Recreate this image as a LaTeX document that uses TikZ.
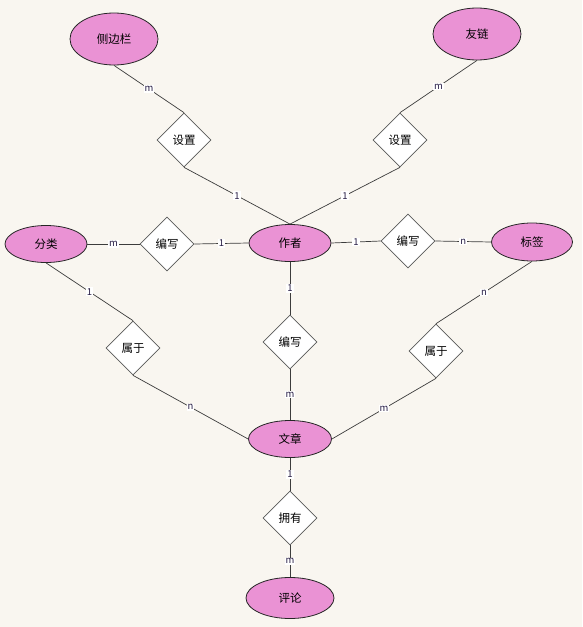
\documentclass[tikz,border=0pt]{standalone}
\usepackage{fontspec}
\setmainfont{Noto Sans CJK SC}
\usetikzlibrary{shapes.geometric}
\definecolor{bgc}{RGB}{249,246,240}
\definecolor{entfill}{RGB}{234,146,212}
\definecolor{linec}{RGB}{60,60,60}
\definecolor{labc}{RGB}{40,30,70}
\tikzset{
  ent/.style={ellipse, draw=black!85, line width=0.8pt, fill=entfill, inner sep=0pt, font=\fontsize{11.5}{13}\selectfont},
  rel/.style={diamond, draw=black!65, line width=0.7pt, fill=white, inner sep=0pt, minimum width=54pt, minimum height=54pt, font=\fontsize{11.5}{13}\selectfont},
  conn/.style={draw=linec, line width=0.7pt},
  card/.style={midway, fill=white, inner sep=1pt, text=labc, font=\fontsize{9.5}{10}\selectfont}
}
\begin{document}
\begin{tikzpicture}[x=1pt,y=-1pt]
\fill[bgc] (0,0) rectangle (582,627);
\useasboundingbox (0,0) rectangle (582,627);
% entities
\node[ent, minimum width=88pt, minimum height=52pt] (sb) at (114,39) {侧边栏};
\node[ent, minimum width=88pt, minimum height=52pt] (yl) at (477,34) {友链};
\node[ent, minimum width=82pt, minimum height=37pt] (fl) at (46,244) {分类};
\node[ent, minimum width=82pt, minimum height=37pt] (zz) at (290,243) {作者};
\node[ent, minimum width=81pt, minimum height=38pt] (bq) at (532,242) {标签};
\node[ent, minimum width=83pt, minimum height=37pt] (wz) at (290,439) {文章};
\node[ent, minimum width=88pt, minimum height=41pt] (pl) at (290,598) {评论};
% relationships
\node[rel] (szl) at (184,140) {设置};
\node[rel] (szr) at (400,140) {设置};
\node[rel] (bxl) at (167,244) {编写};
\node[rel] (bxr) at (408,241) {编写};
\node[rel] (bxm) at (290,342) {编写};
\node[rel] (sul) at (133,348) {属于};
\node[rel] (sur) at (436,351) {属于};
\node[rel] (yy) at (290,518) {拥有};
% connectors
\draw[conn] (sb.south) -- (szl.north) node[card] {m};
\draw[conn] (szl.south) -- (zz.north) node[card] {1};
\draw[conn] (yl.south) -- (szr.north) node[card] {m};
\draw[conn] (szr.south) -- (zz.north) node[card] {1};
\draw[conn] (fl.east) -- (bxl.west) node[card] {m};
\draw[conn] (bxl.east) -- (zz.west) node[card] {1};
\draw[conn] (zz.east) -- (bxr.west) node[card] {1};
\draw[conn] (bxr.east) -- (bq.west) node[card] {n};
\draw[conn] (bq.south) -- (sur.north) node[card] {n};
\draw[conn] (sur.south) -- (wz.east) node[card] {m};
\draw[conn] (fl.south) -- (sul.north) node[card] {1};
\draw[conn] (sul.south) -- (wz.west) node[card] {n};
\draw[conn] (zz.south) -- (bxm.north) node[card] {1};
\draw[conn] (bxm.south) -- (wz.north) node[card] {m};
\draw[conn] (wz.south) -- (yy.north) node[card] {1};
\draw[conn] (yy.south) -- (pl.north) node[card] {m};
\end{tikzpicture}
\end{document}
